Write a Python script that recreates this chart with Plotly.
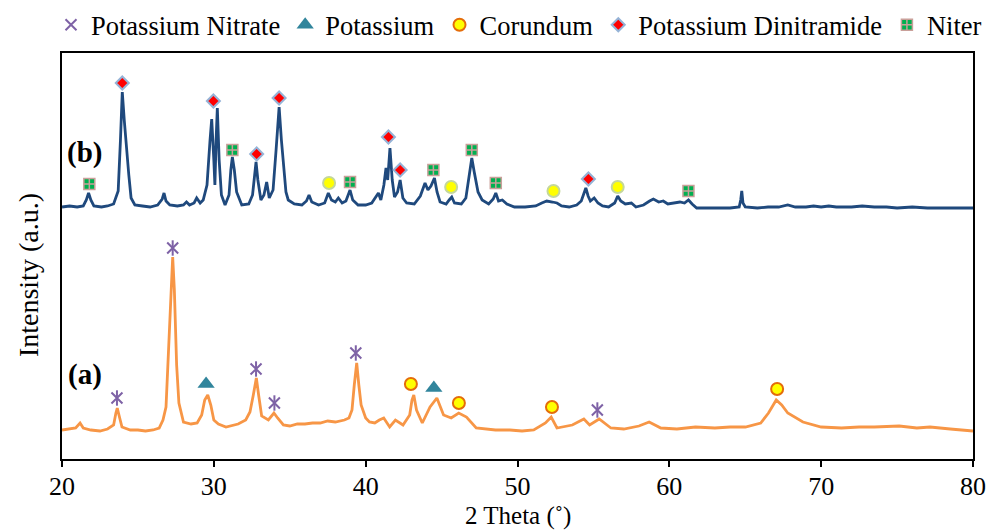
import plotly.graph_objects as go

# ---- XRD pattern (b): blue trace, 2-theta (deg) vs intensity (a.u.) ----
theta_b = [20.0, 20.5, 21.0, 21.4, 21.6, 21.75, 21.9, 22.1, 22.6, 23.0, 23.4, 23.7, 23.85, 23.97,
           24.1, 24.25, 24.4, 24.55, 24.8, 25.3, 25.8, 26.3, 26.6, 26.72, 26.85, 27.1, 27.6, 28.0,
           28.2, 28.4, 28.7, 28.87, 29.1, 29.3, 29.55, 29.75, 29.86, 30.0, 30.07, 30.15, 30.23,
           30.35, 30.5, 30.74, 31.0, 31.12, 31.22, 31.35, 31.5, 31.84, 32.3, 32.55, 32.7, 32.78,
           32.9, 33.1, 33.3, 33.48, 33.65, 33.9, 34.1, 34.3, 34.45, 34.6, 34.75, 34.9, 35.3, 35.8,
           36.1, 36.27, 36.45, 36.9, 37.3, 37.54, 37.75, 38.0, 38.2, 38.45, 38.7, 38.97, 39.15,
           39.5, 40.0, 40.4, 40.7, 40.84, 41.0, 41.2, 41.34, 41.45, 41.6, 41.75, 41.9, 42.1, 42.27,
           42.45, 42.7, 43.2, 43.6, 43.91, 44.1, 44.3, 44.53, 44.7, 44.9, 45.3, 45.5, 45.67, 45.85,
           46.3, 46.6, 46.85, 46.99, 47.15, 47.4, 47.67, 48.1, 48.4, 48.57, 48.75, 49.0, 49.3,
           49.8, 50.5, 51.2, 51.6, 51.93, 52.3, 52.6, 52.9, 53.4, 53.9, 54.2, 54.5, 54.65, 54.8,
           55.05, 55.3, 55.6, 56.0, 56.4, 56.6, 56.8, 57.1, 57.5, 57.8, 58.3, 58.7, 58.95, 59.3,
           59.6, 59.9, 60.3, 60.7, 61.0, 61.26, 61.5, 61.8, 62.5, 63.3, 64.0, 64.6, 64.7, 64.77,
           64.85, 65.0, 65.8, 66.5, 67.2, 67.8, 68.3, 69.0, 69.5, 70.0, 70.5, 71.0, 72.0, 72.7,
           73.5, 74.3, 75.0, 76.0, 77.0, 78.0, 79.0, 80.0]
int_b = [252, 253, 252, 253, 259, 266, 259, 253, 252, 253, 255, 268, 319, 367,
         339, 307, 284, 261, 254, 253, 252, 254, 260, 266, 258, 254, 253, 254,
         257, 254, 256, 261, 256, 259, 274, 319, 340, 299, 274, 319, 351,
         299, 264, 254, 264, 289, 302, 289, 267, 254, 255, 264, 287, 297,
         279, 259, 264, 277, 261, 269, 309, 352, 319, 289, 267, 259, 255, 254,
         258, 264, 257, 254, 256, 266, 259, 257, 261, 256, 258, 269, 259,
         254, 254, 256, 262, 266, 259, 274, 291, 279, 311, 279, 262, 267, 279,
         261, 256, 255, 263, 276, 269, 273, 281, 267, 257, 255, 259, 262, 256,
         255, 261, 284, 301, 287, 267, 259, 255, 260, 266, 258, 259, 255,
         252, 252, 253, 256, 258, 257, 256, 253, 252, 254, 258, 271, 263, 258,
         261, 256, 253, 252, 256, 263, 258, 255, 256, 252, 254, 258, 260, 257,
         258, 255, 256, 257, 256, 259, 255, 251, 251, 251, 251, 252, 259, 268,
         256, 252, 251, 252, 252, 254, 252, 252, 253, 252, 253, 252, 252, 253,
         252, 252, 251, 252, 251, 251, 251, 251]

# ---- XRD pattern (a): orange trace ----
theta_a = [20.0, 20.5, 20.9, 21.19, 21.4, 21.9, 22.5, 23.0, 23.4, 23.55, 23.64, 23.8, 23.95,
           24.5, 25.0, 25.5, 26.0, 26.4, 26.65, 26.85, 27.05, 27.2, 27.29, 27.4, 27.55, 27.7,
           28.0, 28.5, 28.9, 29.2, 29.4, 29.6, 29.8, 30.0, 30.3, 30.8, 31.3, 31.6, 32.1, 32.38,
           32.6, 32.8, 32.95, 33.15, 33.59, 33.8, 33.96, 34.2, 34.58, 35.0, 35.5, 36.0, 36.5,
           37.0, 37.5, 38.0, 38.6, 38.9, 39.1, 39.25, 39.41, 39.55, 39.7, 40.0, 40.25, 40.6,
           40.9, 41.19, 41.58, 41.96, 42.46, 42.9, 43.05, 43.17, 43.35, 43.73, 44.24, 44.69,
           45.13, 45.63, 46.13, 46.64, 47.28, 48.55, 49.5, 50.3, 51.07, 51.84, 52.22, 52.6,
           53.61, 54.37, 54.75, 55.38, 56.15, 57.0, 58.0, 58.67, 59.44, 60.5, 61.72, 63.0,
           64.0, 65.01, 66.02, 66.53, 67.04, 67.4, 67.8, 68.8, 70.0, 71.34, 72.5, 73.5, 75.14,
           76.3, 77.17, 78.5, 80.0]
int_a = [29, 30, 31, 36, 31, 29, 28, 30, 34, 46, 51, 41, 32,
         29, 29, 28, 29, 31, 39, 52, 119, 184, 202, 169, 94, 56,
         37, 35, 36, 44, 59, 64, 54, 39, 35, 32, 34, 35, 39, 47,
         64, 81, 64, 43, 39, 43, 46, 41, 34, 33, 35, 35, 36,
         36, 38, 37, 39, 41, 49, 74, 96, 74, 54, 41, 37, 36,
         39, 41, 32, 39, 34, 44, 59, 64, 49, 36, 52, 61,
         44, 41, 46, 42, 31, 29, 29, 28, 29, 36, 42, 31,
         34, 40, 34, 40, 31, 30, 33, 37, 31, 30, 32, 31,
         32, 32, 36, 46, 59, 54, 46, 37, 32, 31, 32, 32, 33,
         31, 32, 30, 28]

# ---- phase identification markers ----
kno3_theta = [23.62, 27.29, 32.78, 33.99, 39.35, 55.26]
kno3_int = [61, 211, 90, 56, 106, 49]

k_theta = [29.49, 44.49]
k_int = [75, 71]

corundum_a_theta = [42.98, 46.14, 52.27, 67.1]
corundum_a_int = [75, 56, 52, 70]
corundum_b_theta = [37.59, 45.63, 52.37, 56.6]
corundum_b_int = [276, 272, 268, 272]

kdn_theta = [23.97, 29.97, 32.82, 34.30, 41.5, 42.27, 54.67]
kdn_int = [376, 358, 305, 361, 322, 289, 280]

niter_theta = [21.8, 31.22, 38.97, 44.46, 46.99, 48.57, 61.26]
niter_int = [275, 309, 277, 289, 309, 276, 268]

x_ticks = [20, 30, 40, 50, 60, 70, 80]

FONT = "Liberation Serif"
BLUE = "#1F497D"
ORANGE = "#F79646"
PURPLE = "#7E62A6"

fig = go.Figure()

fig.add_trace(go.Scatter(x=theta_b, y=int_b, mode="lines", showlegend=False,
                         line=dict(color=BLUE, width=2.8), hoverinfo="skip"))
fig.add_trace(go.Scatter(x=theta_a, y=int_a, mode="lines", showlegend=False,
                         line=dict(color=ORANGE, width=2.8), hoverinfo="skip"))

# Potassium Nitrate: six-armed star = thin x + vertical bar
fig.add_trace(go.Scatter(x=kno3_theta, y=kno3_int, mode="markers", name="Potassium Nitrate",
                         marker=dict(symbol="x-thin-open", size=11, color=PURPLE,
                                     line=dict(color=PURPLE, width=2))))
fig.add_trace(go.Scatter(x=kno3_theta, y=kno3_int, mode="markers", showlegend=False,
                         marker=dict(symbol="line-ns-open", size=11, color=PURPLE,
                                     line=dict(color=PURPLE, width=2))))

fig.add_trace(go.Scatter(x=k_theta, y=k_int, mode="markers", name="Potassium",
                         marker=dict(symbol="triangle-up", size=15, color="#31859C",
                                     line=dict(width=0))))

fig.add_trace(go.Scatter(x=corundum_a_theta, y=corundum_a_int, mode="markers", name="Corundum",
                         marker=dict(symbol="circle", size=12, color="#FFFF00",
                                     line=dict(color="#E46C0A", width=2))))
fig.add_trace(go.Scatter(x=corundum_b_theta, y=corundum_b_int, mode="markers", showlegend=False,
                         marker=dict(symbol="circle", size=12, color="#FFFF00",
                                     line=dict(color="#C4D79B", width=2))))

fig.add_trace(go.Scatter(x=kdn_theta, y=kdn_int, mode="markers", name="Potassium Dinitramide",
                         marker=dict(symbol="diamond", size=10, color="#FF0000",
                                     line=dict(color="#95B3D7", width=2))))

fig.add_trace(go.Scatter(x=niter_theta, y=niter_int, mode="markers", name="Niter",
                         marker=dict(symbol="square-cross", size=11, color="#00B050",
                                     line=dict(color="#C9A09A", width=1.5))))

fig.update_layout(
    width=990, height=532,
    margin=dict(l=62, r=17, t=53, b=73, autoexpand=False),
    paper_bgcolor="white", plot_bgcolor="white",
    font=dict(family=FONT, size=26, color="black"),
    legend=dict(orientation="h", x=(51 - 62) / 911, xanchor="left",
                y=(459 - 25) / 406, yanchor="middle",
                font=dict(family=FONT, size=26.5, color="black"),
                bgcolor="rgba(0,0,0,0)", itemwidth=30),
    xaxis=dict(range=[20, 80], tickvals=x_ticks, ticks="outside", ticklen=6, tickwidth=1.5,
               tickcolor="black", showline=True, linecolor="black", linewidth=2, mirror=True,
               showgrid=False, zeroline=False, ticklabelstandoff=-3,
               tickfont=dict(family=FONT, size=26)),
    yaxis=dict(range=[0, 406], showticklabels=False, ticks="", showline=True,
               linecolor="black", linewidth=2, mirror=True, showgrid=False, zeroline=False),
    annotations=[
        dict(text="<b>(b)</b>", x=21.5, y=307, xref="x", yref="y", showarrow=False,
             font=dict(family=FONT, size=29, color="black"), xanchor="center", yanchor="middle"),
        dict(text="<b>(a)</b>", x=21.5, y=85, xref="x", yref="y", showarrow=False,
             font=dict(family=FONT, size=29, color="black"), xanchor="center", yanchor="middle"),
        dict(text="Intensity (a.u.)", textangle=-90, x=-0.0373, y=0.453, xref="paper",
             yref="paper", showarrow=False, xanchor="center", yanchor="middle",
             font=dict(family=FONT, size=28, color="black")),
        dict(text="2 Theta (˚)", x=0.5, y=-(532 - 459) / 406, xref="paper", yref="paper",
             showarrow=False, xanchor="center", yanchor="bottom",
             font=dict(family=FONT, size=25, color="black")),
    ],
)

fig.write_html("out.html")
